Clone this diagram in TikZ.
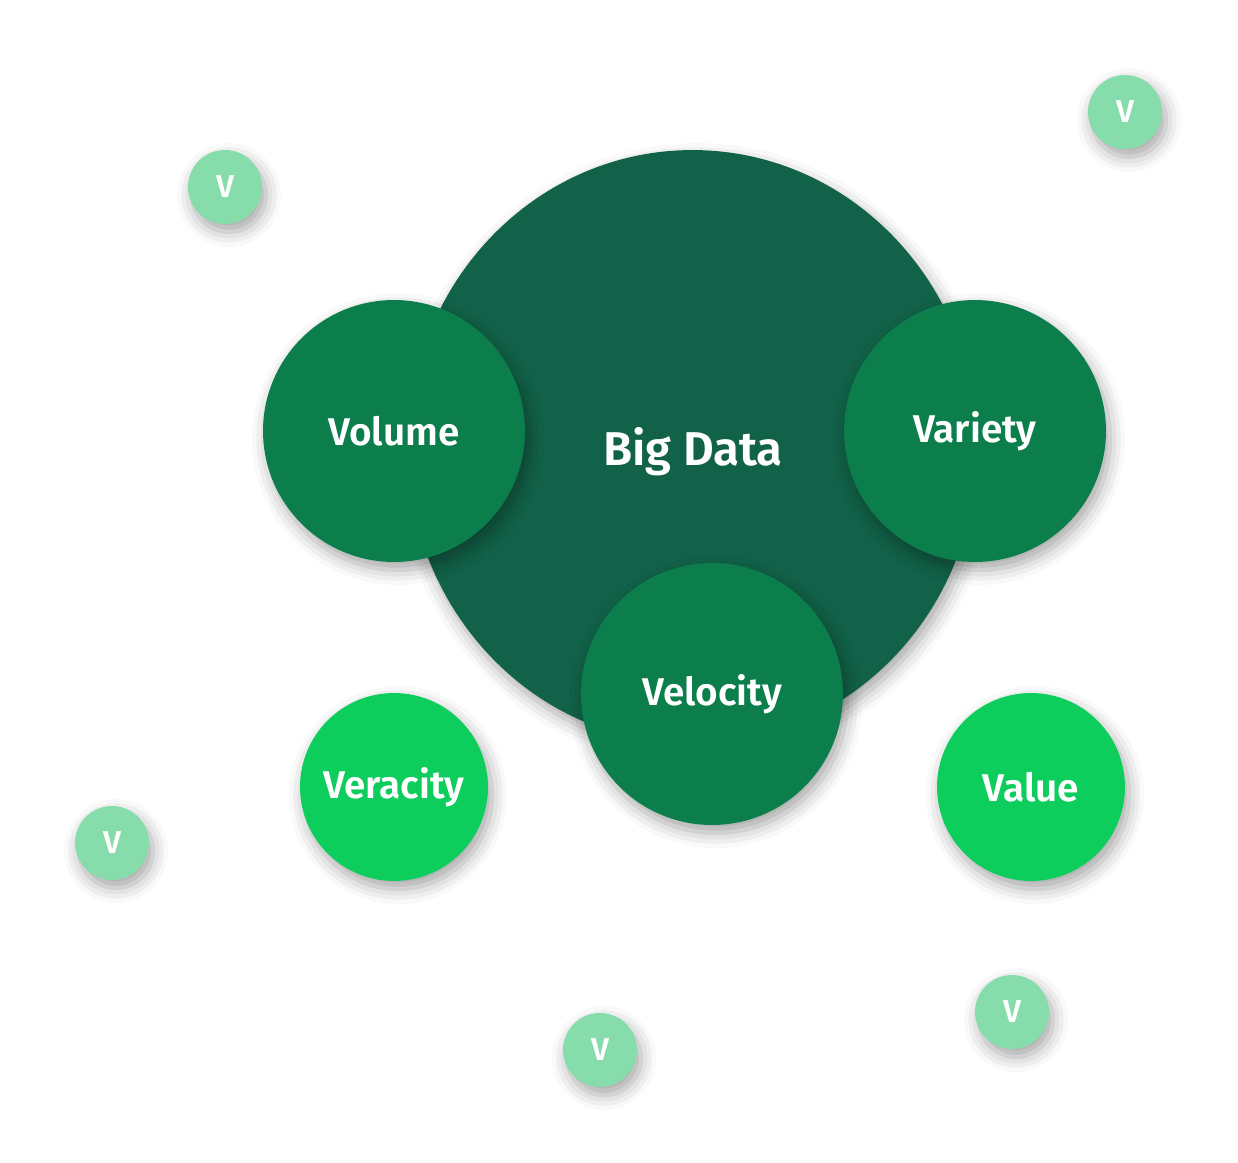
\documentclass[tikz,border=0pt]{standalone}
\usepackage{fontspec}
\setmainfont{Fira Sans}[BoldFont={Fira Sans SemiBold}]
\usepackage{tikz}
\usetikzlibrary{shapes,positioning,shadows,shadows.blur}
\usepackage{xcolor}
\definecolor{bddark}{RGB}{18,98,73}
\definecolor{bdmid}{RGB}{11,126,76}
\definecolor{bdbright}{RGB}{13,206,92}
\definecolor{bdlight}{RGB}{134,220,170}

\tikzset{
  vshadow/.style={blur shadow={shadow xshift=0.08cm, shadow yshift=-0.16cm, shadow blur radius=0.3cm, shadow opacity=35}},
  bigv/.style={circle, fill=bdmid, minimum size=5.24cm, inner sep=0pt, text=white, font=\bfseries\fontsize{22}{26}\selectfont, vshadow},
  outv/.style={circle, fill=bdbright, minimum size=3.76cm, inner sep=0pt, text=white, font=\bfseries\fontsize{22}{26}\selectfont, vshadow},
  tinyv/.style={circle, fill=bdlight, minimum size=1.48cm, inner sep=0pt, text=white, font=\bfseries\fontsize{18}{20}\selectfont, vshadow}
}

\begin{document}
\begin{tikzpicture}[x=0.02cm, y=-0.02cm]
\useasboundingbox (0,0) rectangle (1238,1163);
% core
\node[ellipse, fill=bddark, minimum width=11.4cm, minimum height=11.88cm, inner sep=0pt, vshadow] (bigdata) at (692.5,447) {};
\node[text=white, font=\bfseries\fontsize{27}{31}\selectfont] (bigdatalbl) at (693,452) {Big Data};
% the three V's on the core
\node[bigv] (volume) at (394,431) {Volume};
\node[bigv] (variety) at (975,431) {Variety};
\node[bigv] (velocity) at (712,694) {Velocity};
% the two outer V's
\node[outv] (veracity) at (394,787) {Veracity};
\node[outv] (value) at (1031,787) {Value};
% small floating V's
\node[tinyv] (v1) at (225,187) {V};
\node[tinyv] (v2) at (1125,112) {V};
\node[tinyv] (v3) at (112,843) {V};
\node[tinyv] (v4) at (600,1050) {V};
\node[tinyv] (v5) at (1012,1012) {V};
\end{tikzpicture}
\end{document}
